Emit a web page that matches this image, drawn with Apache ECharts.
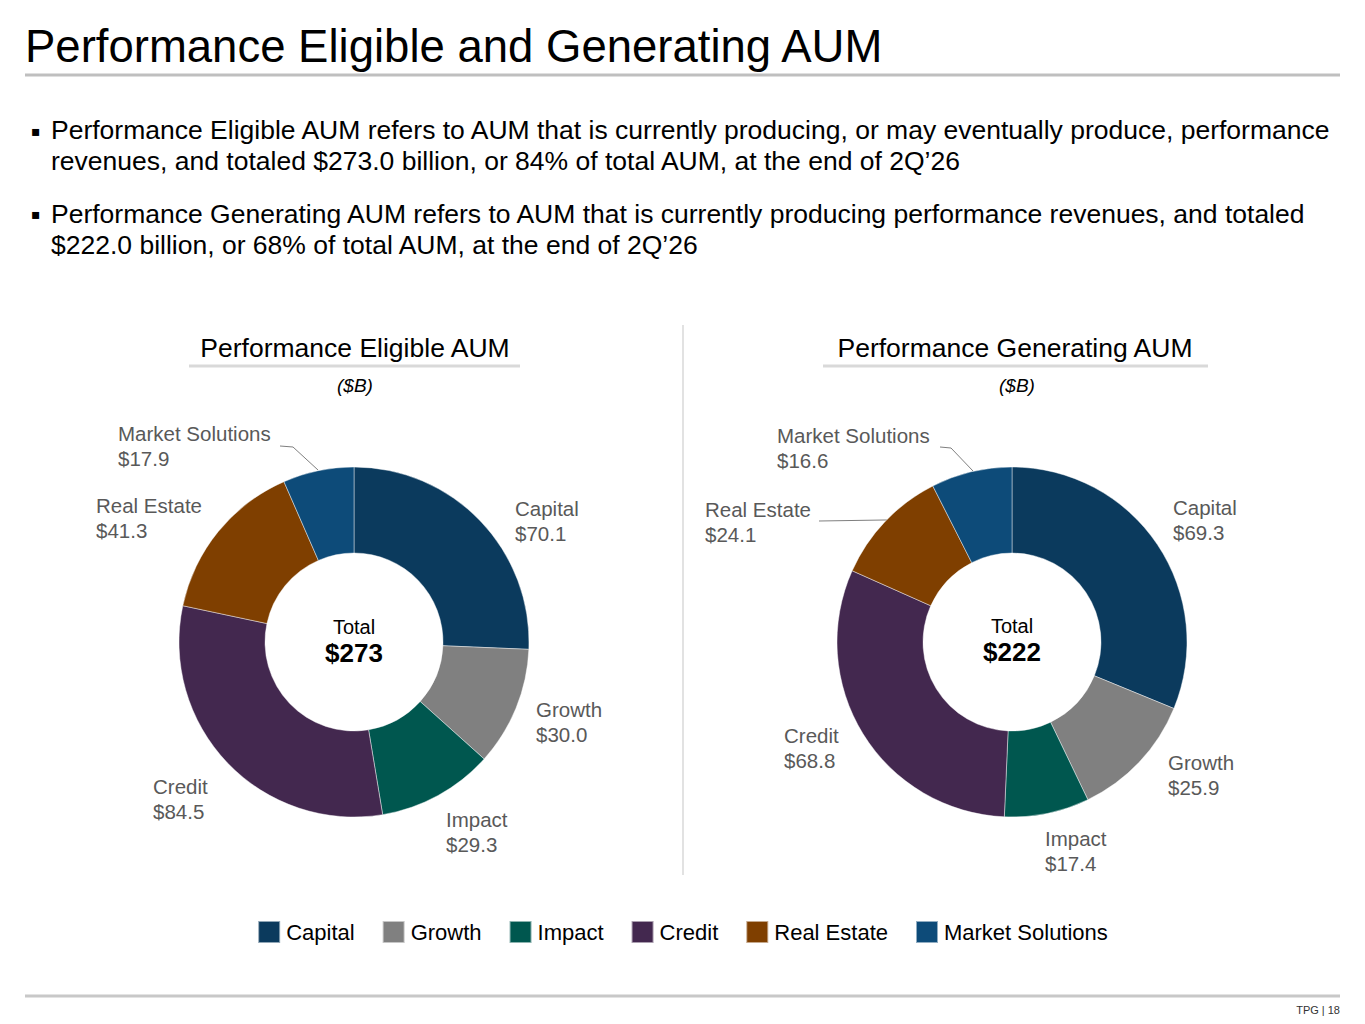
<!DOCTYPE html>
<html>
<head>
<meta charset="utf-8">
<script src="https://cdn.jsdelivr.net/npm/echarts@6/dist/echarts.min.js"></script>
<style>
html,body{margin:0;padding:0;background:#fff;}
#chart{width:1365px;height:1024px;}
</style>
</head>
<body>
<div id="chart"></div>
<script>
// ---- data ----
const categories = ['Capital', 'Growth', 'Impact', 'Credit', 'Real Estate', 'Market Solutions'];
const eligibleValues = [70.1, 30.0, 29.3, 84.5, 41.3, 17.9];
const generatingValues = [69.3, 25.9, 17.4, 68.8, 24.1, 16.6];
const pageTitle = 'Performance Eligible and Generating AUM';
const bullet1 = ['Performance Eligible AUM refers to AUM that is currently producing, or may eventually produce, performance',
                 'revenues, and totaled $273.0 billion, or 84% of total AUM, at the end of 2Q\u201926'];
const bullet2 = ['Performance Generating AUM refers to AUM that is currently producing performance revenues, and totaled',
                 '$222.0 billion, or 68% of total AUM, at the end of 2Q\u201926'];
const leftTitle = 'Performance Eligible AUM';
const rightTitle = 'Performance Generating AUM';
const unitLabel = '($B)';
const footerText = 'TPG | 18';

// ---- styling ----
const FONT = '"Liberation Sans", Arial, Helvetica, sans-serif';
const colors = ['#0b3a5d', '#808080', '#00574f', '#43284f', '#7f3f00', '#0d4b79'];
const LEFT_C = [354, 642], RIGHT_C = [1012, 642];
const RADIUS = [89, 175];
// label offsets (top-left of label block relative to pie centre)
const leftOffsets = [[161, -146], [182, 55], [92, 165], [-201, 132], [-258, -149], [-236, -221]];
const rightOffsets = [[161, -147], [156, 108], [33, 184], [-228, 81], [-307, -145], [-235, -219]];
// leader lines (relative to pie centre), only where the reference shows them
const leftLeaders = {5: [[-74, -196], [-61, -195], [-36, -172]]};
const rightLeaders = {4: [[-193, -121], [-128, -122], [-125, -122]], 5: [[-72, -195], [-61, -194], [-39, -171]]};

function sum(a) { return a.reduce((s, v) => s + v, 0); }

function buildData(values, leaders) {
  return categories.map((name, i) => ({
    name: name,
    value: values[i],
    labelLine: {show: !!leaders[i]}
  }));
}

function makeLayout(center, offsets, leaders) {
  return function (params) {
    const i = params.dataIndex;
    const o = offsets[i];
    const res = {x: center[0] + o[0], y: center[1] + o[1], align: 'left', verticalAlign: 'top'};
    if (leaders[i]) {
      res.labelLinePoints = leaders[i].map(p => [center[0] + p[0], center[1] + p[1]]);
    }
    return res;
  };
}

function pieSeries(values, center, offsets, leaders) {
  return {
    type: 'pie',
    center: center,
    radius: RADIUS,
    startAngle: 90,
    clockwise: true,
    avoidLabelOverlap: false,
    silent: true,
    itemStyle: {borderColor: 'rgba(255,255,255,0.55)', borderWidth: 0.8},
    label: {
      show: true,
      position: 'outside',
      formatter: p => p.name + '\n$' + p.value.toFixed(1),
      fontFamily: FONT,
      fontSize: 20.5,
      lineHeight: 25,
      color: '#595959'
    },
    labelLine: {show: false, lineStyle: {color: '#7f7f7f', width: 1}, length: 10, length2: 10},
    labelLayout: makeLayout(center, offsets, leaders),
    data: buildData(values, leaders)
  };
}

const chart = echarts.init(document.getElementById('chart'), null, {renderer: 'svg'});

const graphics = [
  {type: 'text', x: 25, y: 46, style: {text: pageTitle, font: '45.5px ' + FONT, fill: '#000', verticalAlign: 'middle'}},
  {type: 'line', shape: {x1: 25, y1: 75, x2: 1340, y2: 75}, style: {stroke: '#bfbfbf', lineWidth: 3}},
  {type: 'text', x: 31, y: 131, style: {text: '\u25aa', font: '14px "DejaVu Sans", ' + FONT, fill: '#000', verticalAlign: 'middle'}},
  {type: 'text', x: 51, y: 114, style: {text: bullet1.join('\n'), font: '26.5px ' + FONT, lineHeight: 31, fill: '#000', verticalAlign: 'top'}},
  {type: 'text', x: 31, y: 214, style: {text: '\u25aa', font: '14px "DejaVu Sans", ' + FONT, fill: '#000', verticalAlign: 'middle'}},
  {type: 'text', x: 51, y: 198, style: {text: bullet2.join('\n'), font: '26.5px ' + FONT, lineHeight: 31, fill: '#000', verticalAlign: 'top'}},
  // section titles
  {type: 'text', x: 355, y: 348, style: {text: leftTitle, font: '26.5px ' + FONT, fill: '#000', align: 'center', verticalAlign: 'middle'}},
  {type: 'line', shape: {x1: 189, y1: 366, x2: 520, y2: 366}, style: {stroke: '#d9d9d9', lineWidth: 3}},
  {type: 'text', x: 355, y: 385, style: {text: unitLabel, font: 'italic 19px ' + FONT, fill: '#000', align: 'center', verticalAlign: 'middle'}},
  {type: 'text', x: 1015, y: 348, style: {text: rightTitle, font: '26.5px ' + FONT, fill: '#000', align: 'center', verticalAlign: 'middle'}},
  {type: 'line', shape: {x1: 823, y1: 366, x2: 1208, y2: 366}, style: {stroke: '#d9d9d9', lineWidth: 3}},
  {type: 'text', x: 1017, y: 385, style: {text: unitLabel, font: 'italic 19px ' + FONT, fill: '#000', align: 'center', verticalAlign: 'middle'}},
  // divider
  {type: 'line', shape: {x1: 683, y1: 325, x2: 683, y2: 875}, style: {stroke: '#d9d9d9', lineWidth: 1.5}},
  // totals
  {type: 'text', x: LEFT_C[0], y: 627, style: {text: 'Total', font: '20px ' + FONT, fill: '#000', align: 'center', verticalAlign: 'middle'}},
  {type: 'text', x: LEFT_C[0], y: 653, style: {text: '$' + Math.round(sum(eligibleValues)), font: 'bold 26px ' + FONT, fill: '#000', align: 'center', verticalAlign: 'middle'}},
  {type: 'text', x: RIGHT_C[0], y: 626, style: {text: 'Total', font: '20px ' + FONT, fill: '#000', align: 'center', verticalAlign: 'middle'}},
  {type: 'text', x: RIGHT_C[0], y: 652, style: {text: '$' + Math.round(sum(generatingValues)), font: 'bold 26px ' + FONT, fill: '#000', align: 'center', verticalAlign: 'middle'}},
  // footer
  {type: 'line', shape: {x1: 25, y1: 996, x2: 1340, y2: 996}, style: {stroke: '#c8c8c8', lineWidth: 3}},
  {type: 'text', x: 1340, y: 1010, style: {text: footerText, font: '11px ' + FONT, fill: '#333', align: 'right', verticalAlign: 'middle'}}
];

chart.setOption({
  animation: false,
  color: colors,
  legend: {
    data: categories,
    left: 'center',
    top: 915,
    icon: 'rect',
    itemWidth: 22,
    itemHeight: 22,
    itemGap: 27,
    selectedMode: false,
    textStyle: {fontFamily: FONT, fontSize: 22, color: '#000', padding: [0, 0, 0, 1]}
  },
  graphic: graphics,
  series: [
    pieSeries(eligibleValues, LEFT_C, leftOffsets, leftLeaders),
    pieSeries(generatingValues, RIGHT_C, rightOffsets, rightLeaders)
  ]
});
</script>
</body>
</html>
